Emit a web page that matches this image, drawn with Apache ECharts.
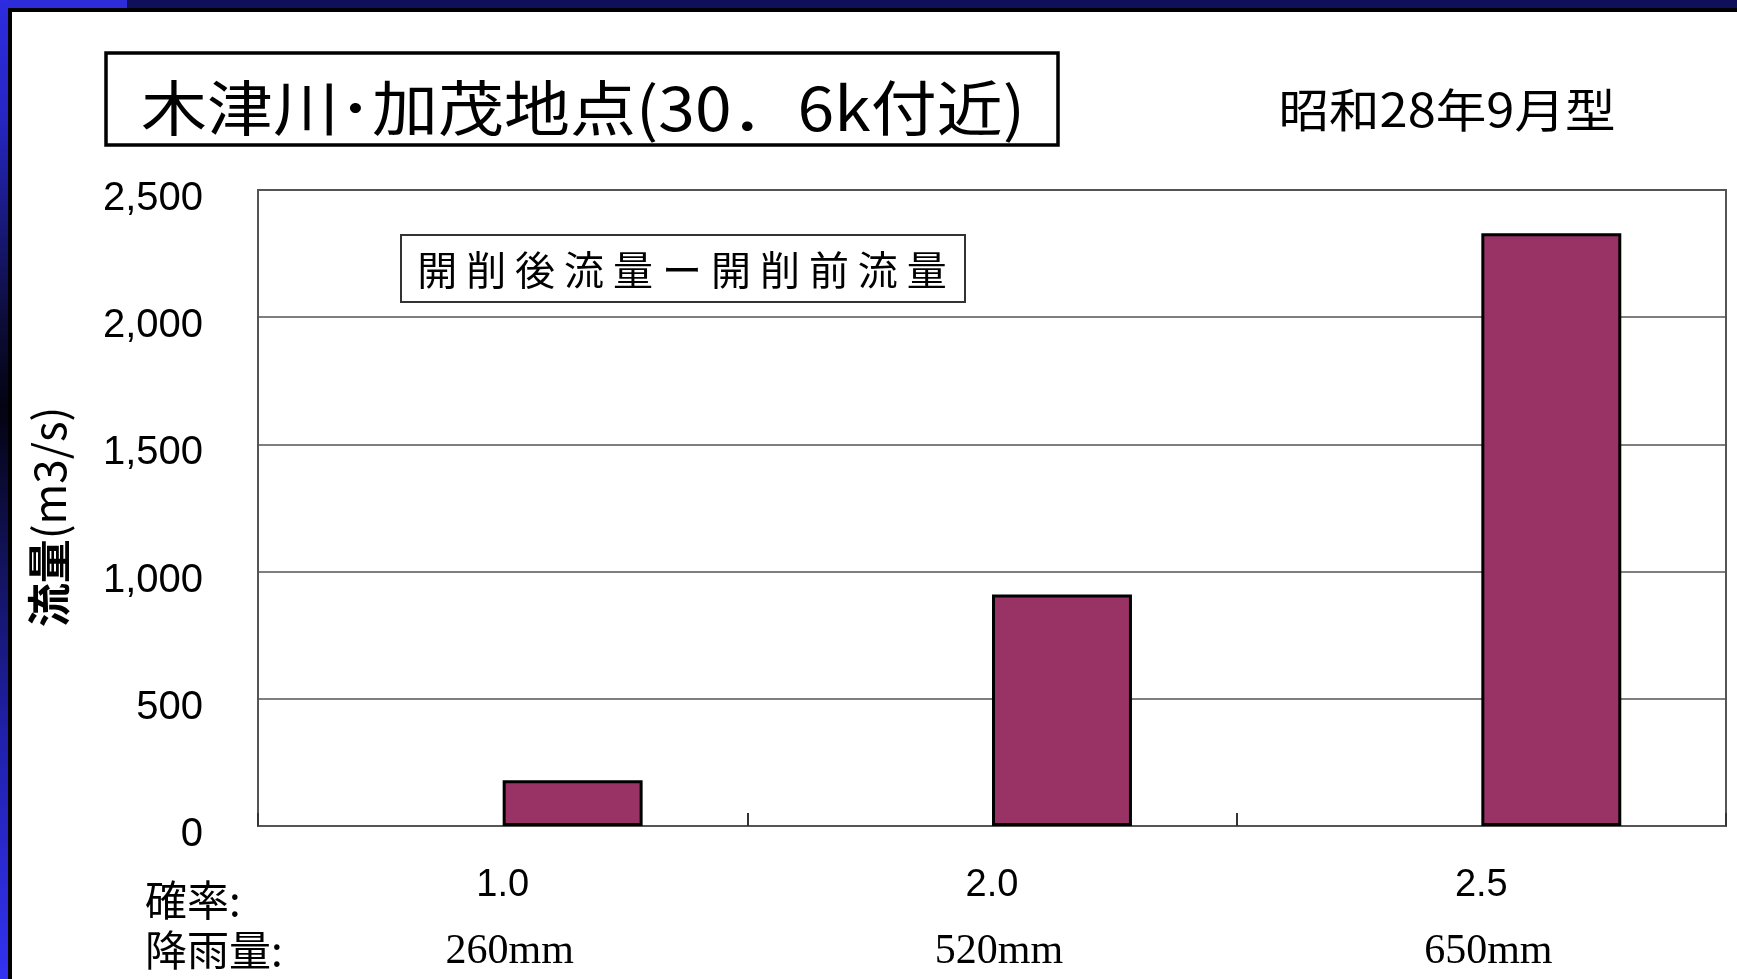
<!DOCTYPE html>
<html>
<head>
<meta charset="utf-8">
<script src="https://cdn.jsdelivr.net/npm/echarts@6/dist/echarts.min.js"></script>
<style>
html,body{margin:0;padding:0;background:#fff;}
#chart{width:1737px;height:979px;}
</style>
</head>
<body>
<div id="chart"></div>
<script>
// ---- data ----
var probabilities = ['1.0', '2.0', '2.5'];
var rainfall = ['260mm', '520mm', '650mm'];
var flowDiff = [180, 910, 2330];
var spacer = [0, 0, 0];
var yTicks = [0, 500, 1000, 1500, 2000, 2500];
var titleText = '木津川･加茂地点(30．6k付近)';
var subtitleText = '昭和28年9月型';
var seriesName = '開削後流量ー開削前流量';
var yNameMain = '流量';
var yNameUnit = '(m3/s)';
var rowLabel1 = '確率:';
var rowLabel2 = '降雨量:';

var chart = echarts.init(document.getElementById('chart'), null, {renderer: 'canvas'});
var JP = '"Noto Sans CJK JP", sans-serif';
var legendSpaced = seriesName.split('').join(' ');

var option = {
  backgroundColor: '#ffffff',
  animation: false,
  grid: {
    left: 258, right: 11, top: 190, bottom: 153,
    show: true, borderColor: '#555', borderWidth: 2, backgroundColor: 'transparent'
  },
  xAxis: {
    type: 'category',
    data: probabilities,
    boundaryGap: true,
    axisLine: {show: true, lineStyle: {color: '#555', width: 2}},
    axisTick: {show: true, inside: true, length: 13, lineStyle: {color: '#333', width: 2}},
    axisLabel: {
      margin: 30,
      formatter: function (v, i) {
        return '{a|' + v + '}\n{b|' + rainfall[i] + '}';
      },
      rich: {
        a: {fontFamily: '"Liberation Sans", Arial, sans-serif', fontSize: 38, color: '#000', lineHeight: 60},
        b: {fontFamily: '"Liberation Serif", "Times New Roman", serif', fontSize: 42, color: '#000', lineHeight: 72, padding: [0, 0, 0, 14]}
      }
    },
    splitLine: {show: false}
  },
  yAxis: {
    type: 'value',
    min: yTicks[0],
    max: yTicks[yTicks.length - 1],
    interval: yTicks[1] - yTicks[0],
    axisLine: {show: false},
    axisTick: {show: false},
    axisLabel: {
      margin: 55,
      formatter: function (v) { return '{v|' + v.toLocaleString('en-US') + '}'; },
      rich: {
        v: {
          color: '#000',
          fontFamily: '"Liberation Sans", Arial, sans-serif',
          fontSize: 40,
          padding: [18, 0, 0, 0]
        }
      }
    },
    splitLine: {show: true, lineStyle: {color: '#555', width: 1.5}}
  },
  series: [
    {
      name: 'spacer',
      type: 'bar',
      data: spacer,
      barWidth: '28.6%',
      barGap: '0%',
      itemStyle: {color: 'rgba(0,0,0,0)', borderWidth: 0},
      silent: true
    },
    {
      name: seriesName,
      type: 'bar',
      data: flowDiff,
      barWidth: '28.6%',
      barGap: '0%',
      itemStyle: {color: '#993366', borderColor: '#000', borderWidth: 3}
    }
  ],
  graphic: [
    // frame
    {type: 'rect', shape: {x: 0, y: 0, width: 1737, height: 8}, style: {fill: '#10105a'}, z: 100},
    {type: 'rect', shape: {x: 0, y: 0, width: 127, height: 8}, style: {fill: '#2c2cd8'}, z: 101},
    {type: 'rect', shape: {x: 0, y: 0, width: 8, height: 979}, z: 101,
      style: {fill: new echarts.graphic.LinearGradient(0, 0, 0, 1, [
        {offset: 0, color: '#2c2ce0'},
        {offset: 0.12, color: '#2626c4'},
        {offset: 0.33, color: '#0c0c38'},
        {offset: 0.42, color: '#030312'},
        {offset: 0.55, color: '#101050'},
        {offset: 0.75, color: '#2020aa'},
        {offset: 1, color: '#3232f2'}
      ])}},
    {type: 'rect', shape: {x: 8, y: 8, width: 1729, height: 4}, style: {fill: '#000'}, z: 102},
    {type: 'rect', shape: {x: 8, y: 8, width: 4, height: 971}, style: {fill: '#000'}, z: 102},
    // title box
    {type: 'rect', shape: {x: 106, y: 53, width: 952, height: 92},
      style: {fill: 'none', stroke: '#000', lineWidth: 3.5}, z: 50},
    {type: 'text', x: 583, y: 108, scaleX: 1.1, z: 51,
      style: {text: titleText, font: 'normal 60px ' + JP, fill: '#000', textAlign: 'center', textVerticalAlign: 'middle'}},
    // subtitle
    {type: 'text', x: 1447, y: 110, scaleX: 1.1, z: 51,
      style: {text: subtitleText, font: 'normal 46px ' + JP, fill: '#000', textAlign: 'center', textVerticalAlign: 'middle'}},
    // legend-like box
    {type: 'rect', shape: {x: 401, y: 235, width: 564, height: 67},
      style: {fill: '#fff', stroke: '#333', lineWidth: 2}, z: 50},
    {type: 'text', x: 682, y: 270, z: 51,
      style: {text: legendSpaced, font: 'normal 40px ' + JP, fill: '#000', textAlign: 'center', textVerticalAlign: 'middle'}},
    // y-axis name
    {type: 'text', x: 49, y: 517, rotation: Math.PI / 2, z: 51,
      style: {
        text: '{a|' + yNameMain + '}{b|' + yNameUnit + '}',
        textAlign: 'center', textVerticalAlign: 'middle',
        rich: {
          a: {fontFamily: JP, fontWeight: 'bold', fontSize: 44, fill: '#000'},
          b: {fontFamily: JP, fontWeight: 'normal', fontSize: 44, fill: '#000'}
        }
      }},
    // row labels
    {type: 'text', x: 145, y: 900, z: 51,
      style: {text: rowLabel1, font: 'normal 42px ' + JP, fill: '#000', textAlign: 'left', textVerticalAlign: 'middle'}},
    {type: 'text', x: 145, y: 950, z: 51,
      style: {text: rowLabel2, font: 'normal 42px ' + JP, fill: '#000', textAlign: 'left', textVerticalAlign: 'middle'}}
  ]
};
chart.setOption(option);
</script>
</body>
</html>
